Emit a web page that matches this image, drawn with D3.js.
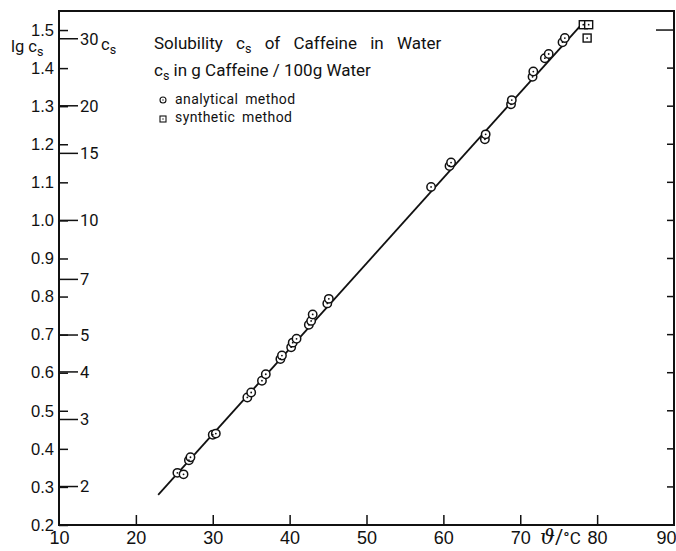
<!DOCTYPE html>
<html><head><meta charset="utf-8">
<script src="https://cdn.jsdelivr.net/npm/d3@7"></script>
<style>
body{margin:0;background:#fff;}
svg{display:block;font-family:Roboto, "DejaVu Sans", sans-serif;}
</style></head>
<body>
<svg id="c" width="676" height="551"></svg>
<script>
// ---- data ----
const anaTemp = [25.4,26.2,26.9,27.1,30.0,30.4,34.5,35.0,36.4,36.9,38.8,39.0,40.2,40.4,40.9,42.5,42.8,43.0,44.9,45.1,58.4,60.8,61.0,65.4,65.5,68.8,68.9,71.6,71.7,73.2,73.7,75.5,75.8];
const anaLg   = [0.337,0.333,0.370,0.378,0.437,0.440,0.535,0.548,0.579,0.596,0.636,0.645,0.667,0.679,0.689,0.726,0.736,0.753,0.782,0.794,1.088,1.143,1.152,1.213,1.226,1.305,1.316,1.377,1.391,1.426,1.437,1.468,1.479];
const synTemp = [78.2,78.9,78.7];
const synLg   = [1.514,1.514,1.479];
const fitTemp = [22.9,77.9];
const fitLg   = [0.279,1.513];
const tempTicks = [10,20,30,40,50,60,70,80,90];
const lgTicks = [0.2,0.3,0.4,0.5,0.6,0.7,0.8,0.9,1.0,1.1,1.2,1.3,1.4,1.5];
const csTicks = [2,3,4,5,7,10,15,20,30];

// ---- layout ----
const svg = d3.select("#c");
const x = d3.scaleLinear().domain([10,90]).range([59,674]);
const y = d3.scaleLinear().domain([0.2,1.55]).range([525,11]);
const ink = "#111";

// frame
svg.append("rect").attr("x",x(10)).attr("y",y(1.55)).attr("width",x(90)-x(10)).attr("height",y(0.2)-y(1.55))
  .attr("fill","none").attr("stroke",ink).attr("stroke-width",2);

// bottom axis (ticks inside)
const xAxis = d3.axisBottom(x).tickValues(tempTicks).tickSize(-10).tickFormat(d3.format("d"));
const gx = svg.append("g").attr("transform",`translate(0,${y(0.2)})`).call(xAxis);
gx.select(".domain").remove();
gx.selectAll("line").attr("stroke",ink).attr("stroke-width",1.5);
gx.selectAll("text").attr("font-size",18).attr("fill",ink).attr("dy",0).attr("y",19);
gx.selectAll(".tick").filter(d=>d===10||d===90).select("line").remove();
gx.selectAll(".tick").filter(d=>d===90).select("text").attr("text-anchor","start").attr("dx",-18);

// left axis lg labels (ticks inside)
const yAxis = d3.axisLeft(y).tickValues(lgTicks).tickSize(-9).tickFormat(d3.format(".1f"));
const gy = svg.append("g").attr("transform",`translate(${x(10)},0)`).call(yAxis);
gy.select(".domain").remove();
gy.selectAll("line").attr("stroke",ink).attr("stroke-width",1.5);
gy.selectAll("text").attr("font-size",16.5).attr("fill",ink).attr("x",-5);

// cs scale inside
const ycs = v => y(Math.log10(v));
const gc = svg.append("g");
csTicks.forEach(v=>{
  gc.append("line").attr("x1",x(10)).attr("x2",x(10)+19).attr("y1",ycs(v)).attr("y2",ycs(v))
    .attr("stroke",ink).attr("stroke-width",1.5);
  gc.append("text").attr("x",x(10)+21).attr("y",ycs(v)).attr("dy","0.35em")
    .attr("font-size",16.5).attr("fill",ink).text(v);
});

// right ticks
const gr = svg.append("g");
lgTicks.filter(d=>d>0.2).forEach(v=>{
  gr.append("line").attr("x1",x(90)).attr("x2",x(90)-(v===1.5?18:7)).attr("y1",y(v)).attr("y2",y(v))
    .attr("stroke",ink).attr("stroke-width",1.5);
});

// axis titles
const lt = svg.append("text").attr("x",11).attr("y",52).attr("font-size",16.5).attr("fill",ink);
lt.append("tspan").text("lg c");
lt.append("tspan").attr("font-size",12.5).attr("dy",4).text("s");
const ct = svg.append("text").attr("x",101).attr("y",50).attr("font-size",16.5).attr("fill",ink);
ct.append("tspan").text("c");
ct.append("tspan").attr("font-size",12.5).attr("dy",4).text("s");
const xt = svg.append("text").attr("x",540).attr("y",544).attr("font-size",17).attr("fill",ink);
xt.append("tspan").attr("font-family","'DejaVu Serif', serif").attr("font-style","italic").attr("font-size",21).text("ϑ");
xt.append("tspan").attr("font-size",20).text("/");
xt.append("tspan").text("°C");

// title
const t1 = svg.append("text").attr("x",154).attr("y",49).attr("font-size",17).attr("fill",ink).attr("word-spacing",9);
t1.append("tspan").text("Solubility c");
t1.append("tspan").attr("font-size",12.5).attr("dy",4).text("s");
t1.append("tspan").attr("dy",-4).text(" of Caffeine in Water");
const t2 = svg.append("text").attr("x",154).attr("y",76).attr("font-size",17).attr("fill",ink);
t2.append("tspan").text("c");
t2.append("tspan").attr("font-size",12.5).attr("dy",4).text("s");
t2.append("tspan").attr("dy",-4).text(" in  g Caffeine  / 100g Water");

// legend
const lg = svg.append("g");
lg.append("circle").attr("cx",163).attr("cy",100).attr("r",3).attr("fill","none").attr("stroke",ink).attr("stroke-width",1.1);
lg.append("circle").attr("cx",163).attr("cy",100).attr("r",0.7).attr("fill",ink);
lg.append("rect").attr("x",160).attr("y",116).attr("width",6).attr("height",6).attr("fill","none").attr("stroke",ink).attr("stroke-width",1.1);
lg.append("circle").attr("cx",163).attr("cy",119).attr("r",0.7).attr("fill",ink);
lg.append("text").attr("x",175).attr("y",104).attr("font-size",14).attr("letter-spacing",0.4).attr("word-spacing",3).attr("fill",ink).text("analytical method");
lg.append("text").attr("x",175).attr("y",122).attr("font-size",14).attr("letter-spacing",0.4).attr("word-spacing",3).attr("fill",ink).text("synthetic method");

// fit line
const line = d3.line().x(d=>x(d[0])).y(d=>y(d[1]));
svg.append("path").datum(d3.zip(fitTemp,fitLg)).attr("d",line).attr("fill","none").attr("stroke",ink).attr("stroke-width",1.8);

// analytical points
const ana = d3.zip(anaTemp,anaLg);
const ga = svg.append("g");
ga.selectAll("circle.o").data(ana).join("circle").attr("class","o")
  .attr("cx",d=>x(d[0])).attr("cy",d=>y(d[1])).attr("r",4.2)
  .attr("fill","#fff").attr("stroke",ink).attr("stroke-width",1.5);
ga.selectAll("circle.d").data(ana).join("circle").attr("class","d")
  .attr("cx",d=>x(d[0])).attr("cy",d=>y(d[1])).attr("r",0.9).attr("fill",ink);

// synthetic points
const syn = d3.zip(synTemp,synLg);
const gs = svg.append("g");
gs.selectAll("rect").data(syn).join("rect")
  .attr("x",d=>x(d[0])-4).attr("y",d=>y(d[1])-4).attr("width",8).attr("height",8)
  .attr("fill","#fff").attr("stroke",ink).attr("stroke-width",1.4);
gs.selectAll("circle").data(syn).join("circle")
  .attr("cx",d=>x(d[0])).attr("cy",d=>y(d[1])).attr("r",0.9).attr("fill",ink);
</script>
</body></html>
